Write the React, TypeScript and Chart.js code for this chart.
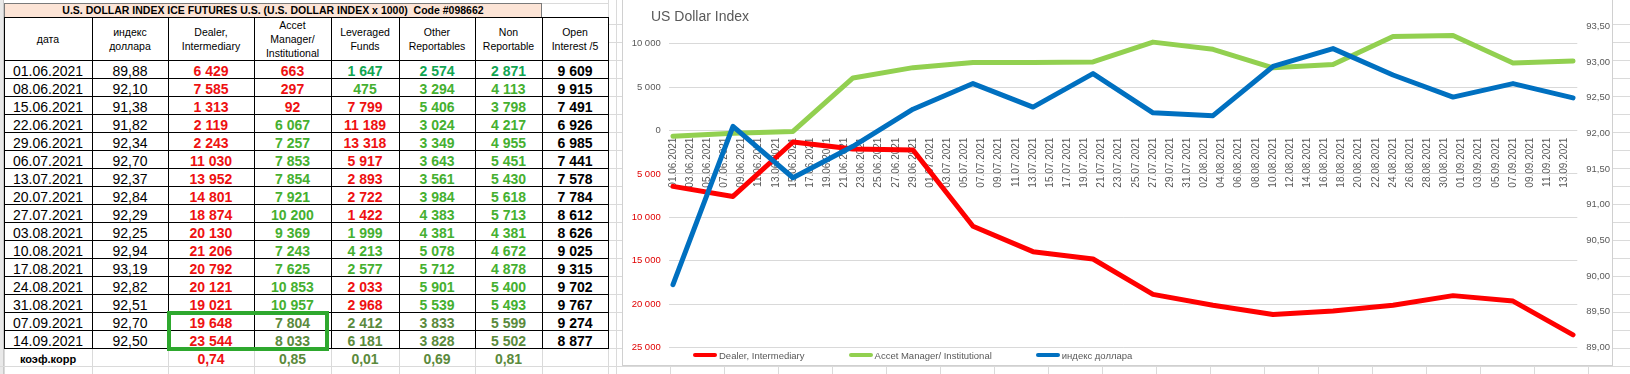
import React, { useEffect, useRef } from "react";
import { Chart, registerables } from "chart.js";

Chart.register(...registerables);

// ---------------- DATA ----------------
const dates = [
  "01.06.2021", "08.06.2021", "15.06.2021", "22.06.2021", "29.06.2021", "06.07.2021",
  "13.07.2021", "20.07.2021", "27.07.2021", "03.08.2021", "10.08.2021", "17.08.2021",
  "24.08.2021", "31.08.2021", "07.09.2021", "14.09.2021",
];
const dollarIndex = [89.88, 92.1, 91.38, 91.82, 92.34, 92.7, 92.37, 92.84, 92.29, 92.25, 92.94, 93.19, 92.82, 92.51, 92.7, 92.5];
// negative = net short (shown red, without sign)
const dealer = [-6429, -7585, -1313, -2119, -2243, -11030, -13952, -14801, -18874, -20130, -21206, -20792, -20121, -19021, -19648, -23544];
const assetManager = [-663, -297, -92, 6067, 7257, 7853, 7854, 7921, 10200, 9369, 7243, 7625, 10853, 10957, 7804, 8033];
const leveragedFunds = [1647, 475, -7799, -11189, -13318, -5917, -2893, -2722, -1422, 1999, 4213, 2577, -2033, -2968, 2412, 6181];
const otherReportables = [2574, 3294, 5406, 3024, 3349, 3643, 3561, 3984, 4383, 4381, 5078, 5712, 5901, 5539, 3833, 3828];
const nonReportable = [2871, 4113, 3798, 4217, 4955, 5451, 5430, 5618, 5713, 4381, 4672, 4878, 5400, 5493, 5599, 5502];
const openInterest = [9609, 9915, 7491, 6926, 6985, 7441, 7578, 7784, 8612, 8626, 9025, 9315, 9702, 9767, 9274, 8877];
const correlation = ["0,74", "0,85", "0,01", "0,69", "0,81"];
const correlationLabel = "коэф.корр";

const tableTitle = "U.S. DOLLAR INDEX ICE FUTURES U.S. (U.S. DOLLAR INDEX x 1000)  Code #098662";
const headers = [
  "дата", "индекс\nдоллара", "Dealer,\nIntermediary", "Accet\nManager/\nInstitutional",
  "Leveraged\nFunds", "Other\nReportables", "Non\nReportable", "Open\nInterest /5",
];

const chartTitle = "US Dollar Index";
const seriesLabels = ["Dealer, Intermediary", "Accet Manager/ Institutional", "индекс доллара"];
const leftTicks = [-25000, -20000, -15000, -10000, -5000, 0, 5000, 10000];
const rightTicks = [89, 89.5, 90, 90.5, 91, 91.5, 92, 92.5, 93, 93.5];
const xTickLabels = [
  "01.06.2021", "03.06.2021", "05.06.2021", "07.06.2021", "09.06.2021", "11.06.2021", "13.06.2021",
  "15.06.2021", "17.06.2021", "19.06.2021", "21.06.2021", "23.06.2021", "25.06.2021", "27.06.2021",
  "29.06.2021", "01.07.2021", "03.07.2021", "05.07.2021", "07.07.2021", "09.07.2021", "11.07.2021",
  "13.07.2021", "15.07.2021", "17.07.2021", "19.07.2021", "21.07.2021", "23.07.2021", "25.07.2021",
  "27.07.2021", "29.07.2021", "31.07.2021", "02.08.2021", "04.08.2021", "06.08.2021", "08.08.2021",
  "10.08.2021", "12.08.2021", "14.08.2021", "16.08.2021", "18.08.2021", "20.08.2021", "22.08.2021",
  "24.08.2021", "26.08.2021", "28.08.2021", "30.08.2021", "01.09.2021", "03.09.2021", "05.09.2021",
  "07.09.2021", "09.09.2021", "11.09.2021", "13.09.2021",
];

// ---------------- STYLE / LAYOUT ----------------
const FONT = "'Liberation Sans', Arial, Helvetica, sans-serif";
const RED = "#ee1111";
const GREEN = "#45b030";
const TEAL = "#12a552";
const OLIVE = "#5b8a3c";
const GRID = "#d9d9d9";
const SHEET = "#dadada";
const colEdges = [4, 92, 168, 254, 331, 399, 475, 542, 608];
const TITLE_TOP = 3;
const HEADER_TOP = 17;
const BODY_TOP = 60;
const ROW_H = 18;

const base = Date.UTC(2021, 5, 1);
function dayOffset(s: string): number {
  const [d, m, y] = s.split(".").map(Number);
  return Math.round((Date.UTC(y, m - 1, d) - base) / 86400000);
}
function fmtNum(v: number): string {
  return String(Math.abs(Math.round(v))).replace(/\B(?=(\d{3})+(?!\d))/g, " ");
}
function fmtIndex(v: number): string {
  return v.toFixed(2).replace(".", ",");
}
function greenFor(row: number): string {
  if (row === 0) return TEAL;
  if (row >= 14) return OLIVE;
  return GREEN;
}

function ChartPanel() {
  const ref = useRef<HTMLCanvasElement | null>(null);
  useEffect(() => {
    const days = dates.map(dayOffset);
    const xDays = xTickLabels.map(dayOffset);
    const chart = new Chart(ref.current as HTMLCanvasElement, {
      type: "line",
      data: {
        datasets: [
          {
            label: seriesLabels[0],
            data: days.map((d, i) => ({ x: d, y: dealer[i] })),
            borderColor: "#ff0000",
            backgroundColor: "#ff0000",
            yAxisID: "y",
            order: 3,
          },
          {
            label: seriesLabels[1],
            data: days.map((d, i) => ({ x: d, y: assetManager[i] })),
            borderColor: "#92d050",
            backgroundColor: "#92d050",
            yAxisID: "y",
            order: 2,
          },
          {
            label: seriesLabels[2],
            data: days.map((d, i) => ({ x: d, y: dollarIndex[i] })),
            borderColor: "#0070c0",
            backgroundColor: "#0070c0",
            yAxisID: "y1",
            order: 1,
          },
        ],
      },
      options: {
        responsive: false,
        maintainAspectRatio: false,
        animation: false,
        layout: { padding: { top: 26.5, bottom: 17.5, left: 0, right: 0 } },
        font: { family: FONT },
        plugins: {
          legend: { display: false },
          title: { display: false },
          tooltip: { enabled: false },
        },
        elements: {
          point: { radius: 0, hoverRadius: 0 },
          line: { borderWidth: 5, borderCapStyle: "round", borderJoinStyle: "round", tension: 0 },
        },
        scales: {
          x: {
            type: "linear",
            position: { y: 0 } as any,
            min: -0.5,
            max: 105.5,
            afterBuildTicks: (s: any) => {
              s.ticks = xDays.map((v) => ({ value: v }));
            },
            ticks: {
              autoSkip: false,
              minRotation: 90,
              maxRotation: 90,
              padding: 7,
              color: "#595959",
              font: { family: FONT, size: 10 },
              callback: (_v: any, i: number) => xTickLabels[i],
            },
            grid: { display: false, drawTicks: false },
            border: { display: false },
          },
          y: {
            type: "linear",
            position: "left",
            min: -25000,
            max: 12000,
            afterBuildTicks: (s: any) => {
              s.ticks = leftTicks.map((v) => ({ value: v }));
            },
            afterFit: (s: any) => {
              s.width = 45.7;
            },
            ticks: {
              padding: 8,
              font: { family: FONT, size: 9.5 },
              color: (ctx: any) => (ctx.tick && ctx.tick.value < 0 ? "#e00000" : "#595959"),
              callback: (v: any) => fmtNum(Number(v)),
            },
            grid: { color: GRID, lineWidth: 1, drawTicks: false },
            border: { display: false },
          },
          y1: {
            type: "linear",
            position: "right",
            min: 89,
            max: 93.5,
            afterBuildTicks: (s: any) => {
              s.ticks = rightTicks.map((v) => ({ value: v }));
            },
            afterFit: (s: any) => {
              s.width = 34.7;
            },
            ticks: {
              padding: 9,
              font: { family: FONT, size: 9.5 },
              color: "#595959",
              callback: (v: any) => fmtIndex(Number(v)),
            },
            grid: { display: false, drawTicks: false },
            border: { display: false },
          },
        },
      } as any,
    });
    return () => chart.destroy();
  }, []);
  return <canvas ref={ref} width={989} height={365} style={{ display: "block" }} />;
}

function Cell(props: { col: number; top: number; text: string; bold?: boolean; color?: string; size?: number }) {
  const { col, top, text, bold, color, size } = props;
  return (
    <div
      style={{
        position: "absolute",
        left: colEdges[col],
        width: colEdges[col + 1] - colEdges[col],
        top: top + 1.5,
        height: ROW_H,
        lineHeight: ROW_H + "px",
        textAlign: "center",
        fontSize: size || 14,
        fontWeight: bold ? 700 : 400,
        color: color || "#000",
        whiteSpace: "nowrap",
      }}
    >
      {text}
    </div>
  );
}

function Line(props: { x: number; y: number; w: number; h: number; c: string }) {
  return (
    <div style={{ position: "absolute", left: props.x, top: props.y, width: props.w, height: props.h, background: props.c }} />
  );
}

function Table() {
  const bodyBottom = BODY_TOP + ROW_H * dates.length;
  const lines: React.ReactNode[] = [];
  colEdges.forEach((x, i) => lines.push(<Line key={"lv" + i} x={x} y={bodyBottom} w={1} h={40} c={SHEET} />));
  lines.push(<Line key="lh1" x={0} y={bodyBottom + ROW_H} w={608} h={1} c={SHEET} />);
  lines.push(<Line key="tl1" x={542} y={TITLE_TOP} w={66} h={1} c={SHEET} />);
  lines.push(<Line key="tl2" x={608} y={0} w={1} h={HEADER_TOP} c={SHEET} />);
  colEdges.forEach((x, i) =>
    lines.push(<Line key={"v" + i} x={x} y={HEADER_TOP} w={1} h={bodyBottom - HEADER_TOP + 1} c="#000" />)
  );
  const hs = [HEADER_TOP, BODY_TOP];
  for (let i = 1; i <= dates.length; i++) hs.push(BODY_TOP + i * ROW_H);
  hs.forEach((y, i) => lines.push(<Line key={"h" + i} x={colEdges[0]} y={y} w={608 - colEdges[0] + 1} h={1} c="#000" />));

  return (
    <div style={{ position: "absolute", left: 0, top: 0, width: 609, height: 374, background: "#fff" }}>
      <div style={{ position: "absolute", left: 0, top: 0, width: 3, height: 374, background: "#e9e9e9", borderRight: "1px solid #c8c8c8" }} />
      <div
        style={{
          position: "absolute",
          left: colEdges[0],
          top: TITLE_TOP,
          width: 542 - colEdges[0],
          height: HEADER_TOP - TITLE_TOP,
          background: "#fce4d6",
          borderTop: "1px solid #7a7a7a",
          borderLeft: "1px solid #7a7a7a",
          borderRight: "1px solid #7a7a7a",
          boxSizing: "border-box",
          fontSize: 10.5,
          fontWeight: 700,
          lineHeight: "13px",
          textAlign: "center",
          whiteSpace: "pre",
          color: "#000",
        }}
      >
        {tableTitle}
      </div>
      {lines}
      {headers.map((h, c) => (
        <div
          key={"hd" + c}
          style={{
            position: "absolute",
            left: colEdges[c],
            width: colEdges[c + 1] - colEdges[c],
            top: HEADER_TOP,
            height: BODY_TOP - HEADER_TOP,
            display: "flex",
            alignItems: "center",
            justifyContent: "center",
            textAlign: "center",
            whiteSpace: "pre-line",
            fontSize: 10.5,
            lineHeight: "14px",
            color: "#000",
          }}
        >
          {h}
        </div>
      ))}
      {dates.map((d, i) => {
        const top = BODY_TOP + i * ROW_H;
        const vals = [dealer[i], assetManager[i], leveragedFunds[i], otherReportables[i], nonReportable[i]];
        return (
          <React.Fragment key={"r" + i}>
            <Cell col={0} top={top} text={d} />
            <Cell col={1} top={top} text={fmtIndex(dollarIndex[i])} />
            {vals.map((v, j) => (
              <Cell key={j} col={2 + j} top={top} text={fmtNum(v)} bold color={v < 0 ? RED : greenFor(i)} />
            ))}
            <Cell col={7} top={top} text={fmtNum(openInterest[i])} bold color="#000" />
          </React.Fragment>
        );
      })}
      <Cell col={0} top={bodyBottom} text={correlationLabel} bold size={11} />
      {correlation.map((c, j) => (
        <Cell key={"c" + j} col={2 + j} top={bodyBottom} text={c} bold color={j === 0 ? RED : OLIVE} />
      ))}
      <div
        style={{
          position: "absolute",
          left: 166.5,
          top: 311,
          width: 162,
          height: 40,
          border: "4.5px solid #2ea82e",
          boxSizing: "border-box",
        }}
      />
    </div>
  );
}

function Legend() {
  const colors = ["#ff0000", "#92d050", "#0070c0"];
  return (
    <div
      style={{
        position: "absolute",
        left: 693,
        top: 348,
        height: 14,
        display: "flex",
        alignItems: "center",
        gap: 44,
        fontSize: 9.5,
        color: "#595959",
        whiteSpace: "nowrap",
      }}
    >
      {seriesLabels.map((l, i) => (
        <div key={i} style={{ display: "flex", alignItems: "center" }}>
          <div style={{ width: 24, height: 4.5, borderRadius: 2.5, background: colors[i], marginRight: 2 }} />
          <span>{l}</span>
        </div>
      ))}
    </div>
  );
}

export default function App() {
  return (
    <div
      style={{
        position: "fixed",
        left: 0,
        top: 0,
        width: 1630,
        height: 374,
        overflow: "hidden",
        background: "#fff",
        fontFamily: FONT,
        backgroundImage:
          `repeating-linear-gradient(to bottom, transparent 0px, transparent 17px, ${SHEET} 17px, ${SHEET} 18px),` +
          `repeating-linear-gradient(to right, transparent 0px, transparent 53px, ${SHEET} 53px, ${SHEET} 54px)`,
        backgroundPosition: "0px 7px, 23px 0px",
      }}
    >
      <Table />
      <div
        style={{
          position: "absolute",
          left: 622,
          top: -1,
          width: 989,
          height: 365,
          border: "1px solid #d0d0d0",
          background: "#fff",
        }}
      >
        <ChartPanel />
      </div>
      <div style={{ position: "absolute", left: 651, top: 8, fontSize: 14, lineHeight: "16px", color: "#595959", whiteSpace: "nowrap" }}>
        {chartTitle}
      </div>
      <Legend />
    </div>
  );
}
